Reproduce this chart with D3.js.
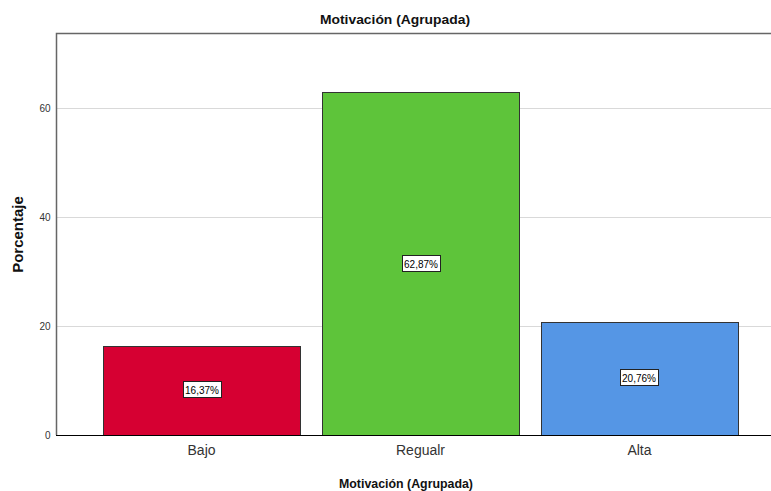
<!DOCTYPE html>
<html>
<head>
<meta charset="utf-8">
<script src="https://cdn.jsdelivr.net/npm/d3@7"></script>
<style>
  html, body { margin: 0; padding: 0; background: #fff; }
  svg { display: block; font-family: "Liberation Sans", Arial, sans-serif; }
</style>
</head>
<body>
<svg id="chart" width="771" height="491"></svg>
<script>
// Porcentaje por nivel de motivación
const categories = ["Bajo", "Regualr", "Alta"];
const percentages = [16.37, 62.87, 20.76];
const barColors = ["#D60032", "#5EC43A", "#5596E5"];
const yTicks = [0, 20, 40, 60];

const svg = d3.select("#chart");
const plotLeft = 57, plotRight = 784, plotTop = 34, plotBottom = 435;

const x = d3.scaleBand()
  .domain(categories)
  .range([plotLeft, plotRight])
  .paddingInner(0.1)
  .paddingOuter(0.21);

const y = d3.scaleLinear()
  .domain([0, 73.6])
  .range([plotBottom, plotTop]);

// gridlines
svg.append("g")
  .selectAll("line")
  .data(yTicks.filter(d => d > 0))
  .join("line")
  .attr("x1", plotLeft).attr("x2", 771)
  .attr("y1", d => Math.round(y(d)) + 0.5).attr("y2", d => Math.round(y(d)) + 0.5)
  .attr("stroke", "#d9d9d9").attr("stroke-width", 1);

// bars
svg.append("g")
  .selectAll("rect")
  .data(categories)
  .join("rect")
  .attr("x", d => Math.round(x(d)) + 0.5)
  .attr("y", (d, i) => Math.round(y(percentages[i])) + 0.5)
  .attr("width", Math.round(x.bandwidth()))
  .attr("height", (d, i) => plotBottom - Math.round(y(percentages[i])))
  .attr("fill", (d, i) => barColors[i])
  .attr("stroke", "#333")
  .attr("stroke-width", 1);

// plot frame: left and top
svg.append("path")
  .attr("d", `M${plotLeft - 0.5},${plotBottom}V${plotTop - 0.5}H771`)
  .attr("fill", "none").attr("stroke", "#666").attr("stroke-width", 1.5);

// y axis
const yAxis = d3.axisLeft(y).tickValues(yTicks).tickSize(0).tickPadding(6);
const gy = svg.append("g").attr("transform", `translate(${plotLeft - 0.5},0)`).call(yAxis);
gy.select(".domain").remove();
gy.selectAll("text").attr("font-size", 10).attr("fill", "#333").attr("font-family", "Liberation Sans, Arial, sans-serif");

// x axis
const xAxis = d3.axisBottom(x).tickSize(0).tickPadding(10);
const gx = svg.append("g").attr("transform", `translate(0,${plotBottom + 0.5})`).call(xAxis);
gx.select(".domain").attr("d", `M${plotLeft - 1},0H771`).attr("stroke", "#000");
gx.selectAll("text").attr("font-size", 14).attr("fill", "#333").attr("font-family", "Liberation Sans, Arial, sans-serif");

// value labels
const fmt = v => v.toFixed(2).replace(".", ",") + "%";
const labels = svg.append("g")
  .selectAll("g")
  .data(categories)
  .join("g")
  .attr("transform", (d, i) => `translate(${Math.round(x(d) + x.bandwidth() / 2)},${Math.round((y(0) + y(percentages[i])) / 2)})`);
labels.append("text")
  .attr("text-anchor", "middle")
  .attr("dy", "0.35em")
  .attr("font-size", 10)
  .attr("fill", "#000")
  .text((d, i) => fmt(percentages[i]))
  .each(function () {
    const b = this.getBBox();
    const w = Math.round(b.width) + 4, h = 16;
    d3.select(this.parentNode).insert("rect", "text")
      .attr("x", -Math.round(w / 2) + 0.5).attr("y", -8.5)
      .attr("width", w).attr("height", h)
      .attr("fill", "#fff").attr("stroke", "#222").attr("stroke-width", 1);
  });

// titles
svg.append("text")
  .attr("x", 395).attr("y", 24)
  .attr("text-anchor", "middle")
  .attr("font-size", 13).attr("font-weight", "bold").attr("fill", "#111")
  .attr("textLength", 150).attr("lengthAdjust", "spacingAndGlyphs")
  .text("Motivación (Agrupada)");

svg.append("text")
  .attr("x", 406).attr("y", 488)
  .attr("text-anchor", "middle")
  .attr("font-size", 13).attr("font-weight", "bold").attr("fill", "#111")
  .attr("textLength", 134).attr("lengthAdjust", "spacingAndGlyphs")
  .text("Motivación (Agrupada)");

svg.append("text")
  .attr("transform", `translate(23,${(plotTop + plotBottom) / 2}) rotate(-90)`)
  .attr("text-anchor", "middle")
  .attr("font-size", 15).attr("font-weight", "bold").attr("fill", "#111")
  .text("Porcentaje");
</script>
</body>
</html>
